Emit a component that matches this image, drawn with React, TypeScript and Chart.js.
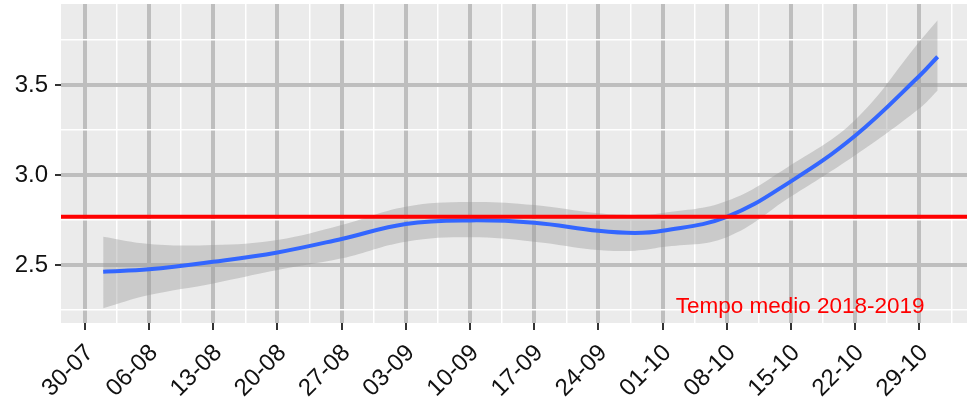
import React, { useEffect, useRef } from "react";
import { Chart, registerables } from "chart.js";

Chart.register(...registerables);

// ---- data ----
const dateLabels = ["30-07", "06-08", "13-08", "20-08", "27-08", "03-09", "10-09", "17-09", "24-09", "01-10", "08-10", "15-10", "22-10", "29-10"];
// days counted from 30-07
const days = [2, 7, 14, 21, 28, 35, 42, 49, 56, 60, 63, 70, 77, 84, 91, 93];
const fitValues = [2.463, 2.476, 2.518, 2.57, 2.645, 2.728, 2.748, 2.735, 2.69, 2.678, 2.69, 2.768, 2.965, 3.218, 3.55, 3.657];
const upperValues = [2.657, 2.617, 2.611, 2.639, 2.722, 2.824, 2.85, 2.833, 2.787, 2.78, 2.789, 2.855, 3.056, 3.306, 3.74, 3.86];
const lowerValues = [2.26, 2.333, 2.398, 2.472, 2.537, 2.63, 2.654, 2.63, 2.583, 2.58, 2.6, 2.655, 2.88, 3.11, 3.37, 3.47];
const referenceValue = 2.768;
const referenceLabel = "Tempo medio 2018-2019";
const referenceLabelX = 78;
const referenceLabelY = 2.267;
const yMajorTicks = [2.5, 3.0, 3.5];
const yMinorTicks = [2.25, 2.75, 3.25, 3.75];
const xMin = -2.6;
const xMax = 96.2;
const yMin = 2.178;
const yMax = 3.95;

const FONT = "'Liberation Sans', Arial, sans-serif";

export default function App() {
  const ref = useRef<HTMLCanvasElement | null>(null);

  useEffect(() => {
    if (!ref.current) return;
    const toPts = (vals: number[]) => days.map((d, i) => ({ x: d, y: vals[i] }));
    const isMajorX = (v: number) => Math.abs(v / 7 - Math.round(v / 7)) < 1e-6;
    const isMajorY = (v: number) => yMajorTicks.some((t) => Math.abs(t - v) < 1e-6);

    const bgPlugin = {
      id: "panelBg",
      beforeDraw(chart: any) {
        const { ctx, chartArea } = chart;
        ctx.save();
        ctx.fillStyle = "#ebebeb";
        ctx.fillRect(chartArea.left, chartArea.top, chartArea.right - chartArea.left, chartArea.bottom - chartArea.top);
        ctx.restore();
      },
    };
    const overlayPlugin = {
      id: "overlay",
      afterDatasetsDraw(chart: any) {
        const { ctx, scales, chartArea } = chart;
        ctx.save();
        ctx.fillStyle = "#ff0000";
        ctx.font = `22.5px ${FONT}`;
        ctx.textAlign = "center";
        ctx.textBaseline = "middle";
        ctx.fillText(referenceLabel, scales.x.getPixelForValue(referenceLabelX), scales.y.getPixelForValue(referenceLabelY));
        // tick marks
        ctx.strokeStyle = "#333333";
        ctx.lineWidth = 2;
        ctx.beginPath();
        dateLabels.forEach((_, i) => {
          const px = Math.round(scales.x.getPixelForValue(i * 7));
          ctx.moveTo(px, chartArea.bottom);
          ctx.lineTo(px, chartArea.bottom + 7);
        });
        yMajorTicks.forEach((v) => {
          const py = Math.round(scales.y.getPixelForValue(v));
          ctx.moveTo(chartArea.left - 6, py);
          ctx.lineTo(chartArea.left, py);
        });
        ctx.stroke();
        ctx.restore();
      },
    };

    const chart = new Chart(ref.current, {
      type: "line",
      data: {
        datasets: [
          {
            label: "ref",
            data: [{ x: xMin, y: referenceValue }, { x: xMax, y: referenceValue }],
            borderColor: "#ff0000",
            borderWidth: 4,
            pointRadius: 0,
            fill: false,
          },
          {
            label: "fit",
            data: toPts(fitValues),
            borderColor: "#3366ff",
            borderWidth: 4,
            pointRadius: 0,
            tension: 0.4,
            fill: false,
          },
          {
            label: "upper",
            data: toPts(upperValues),
            borderWidth: 0,
            borderColor: "rgba(0,0,0,0)",
            pointRadius: 0,
            tension: 0.4,
            fill: "+1",
            backgroundColor: "rgba(153,153,153,0.4)",
          },
          {
            label: "lower",
            data: toPts(lowerValues),
            borderWidth: 0,
            borderColor: "rgba(0,0,0,0)",
            pointRadius: 0,
            tension: 0.4,
            fill: false,
          },
        ],
      },
      options: {
        animation: false,
        responsive: false,
        layout: { padding: { top: 4, right: 0, left: 0, bottom: 0 } },
        plugins: { legend: { display: false }, tooltip: { enabled: false } },
        scales: {
          x: {
            type: "linear",
            min: xMin,
            max: xMax,
            afterBuildTicks(scale: any) {
              const t = [];
              for (let v = 0; v <= xMax; v += 3.5) t.push({ value: v });
              scale.ticks = t;
            },
            afterFit(scale: any) {
              scale.height = 76;
            },
            border: { display: false },
            grid: {
              color: (c: any) => (isMajorX(c.tick.value) ? "#bebebe" : "#ffffff"),
              lineWidth: (c: any) => (isMajorX(c.tick.value) ? 4 : 1.5),
              tickColor: "rgba(0,0,0,0)",
              tickLength: 21,
            },
            ticks: {
              autoSkip: false,
              minRotation: 45,
              maxRotation: 45,
              padding: 0,
              labelOffset: 5,
              color: "#111111",
              font: { size: 24, family: FONT, lineHeight: 0.6 },
              callback: (v: any) => (isMajorX(Number(v)) ? dateLabels[Math.round(Number(v) / 7)] ?? "" : ""),
            },
          },
          y: {
            type: "linear",
            min: yMin,
            max: yMax,
            afterBuildTicks(scale: any) {
              scale.ticks = [...yMajorTicks, ...yMinorTicks].sort((a, b) => a - b).map((v) => ({ value: v }));
            },
            afterFit(scale: any) {
              scale.width = 61;
            },
            border: { display: false },
            grid: {
              color: (c: any) => (isMajorY(c.tick.value) ? "#bebebe" : "#ffffff"),
              lineWidth: (c: any) => (isMajorY(c.tick.value) ? 4 : 1.5),
              tickColor: "rgba(0,0,0,0)",
              tickLength: 13,
            },
            ticks: {
              padding: 0,
              color: "#111111",
              font: { size: 24, family: FONT, lineHeight: 0.3 },
              callback: (v: any) => (isMajorY(Number(v)) ? Number(v).toFixed(1) : ""),
            },
          },
        },
      },
      plugins: [bgPlugin, overlayPlugin],
    });
    return () => chart.destroy();
  }, []);

  return (
    <div style={{ position: "fixed", left: 0, top: 0, width: 967, height: 399, background: "#ffffff" }}>
      <canvas ref={ref} width={967} height={399} style={{ width: 967, height: 399 }} />
    </div>
  );
}
